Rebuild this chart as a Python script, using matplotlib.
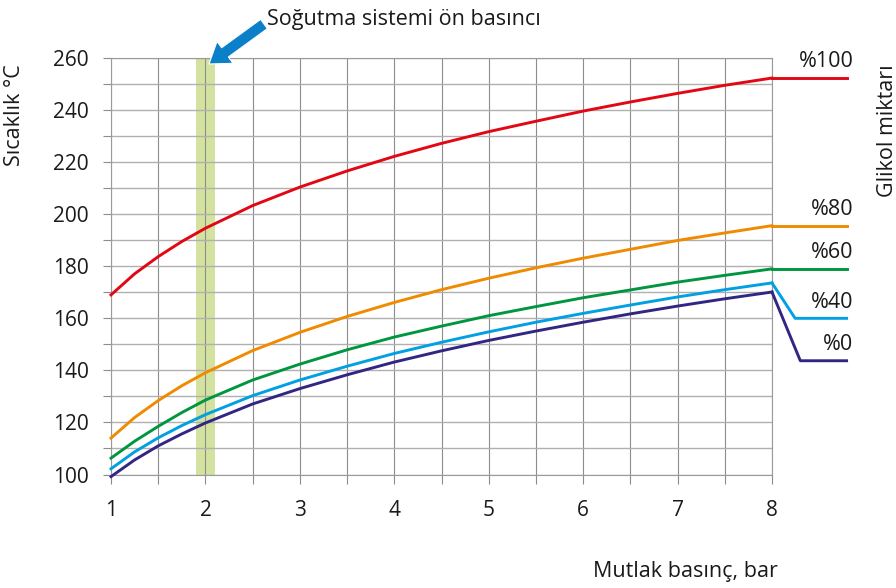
import matplotlib.pyplot as plt
from matplotlib.ticker import MultipleLocator

plt.rcParams['font.family'] = ['Open Sans', 'DejaVu Sans']

# -----------------------------
# Data
# -----------------------------

pressure = [1, 1.25, 1.5, 1.75, 2, 2.5, 3, 3.5, 4, 4.5, 5, 5.5, 6, 6.5, 7, 7.5, 8]

glycol_100 = [169, 177.1, 183.7, 189.5, 194.6, 203.3, 210.4, 216.6, 222.2, 227.2, 231.7, 235.7, 239.6, 243.1, 246.4, 249.5, 252.3]
glycol_80 = [114, 121.9, 128.4, 134.1, 139.1, 147.6, 154.6, 160.7, 166.1, 171.0, 175.4, 179.4, 183.1, 186.5, 189.9, 192.8, 195.6]
glycol_60 = [106.3, 112.8, 118.5, 123.8, 128.6, 136.3, 142.4, 147.9, 152.8, 157.0, 161.0, 164.5, 167.9, 170.9, 173.9, 176.5, 179.0]
glycol_40 = [102.2, 108.7, 114.1, 118.8, 123.0, 130.3, 136.3, 141.6, 146.5, 150.8, 154.8, 158.5, 161.9, 165.1, 168.2, 171.0, 173.6]
glycol_0 = [99.2, 105.6, 111.0, 115.6, 119.8, 127.1, 133.0, 138.3, 143.2, 147.5, 151.5, 155.1, 158.5, 161.7, 164.7, 167.5, 170.1]

# right hand tails after 8 bar
tail_end = 8.79
tail_40_x = [8.245, tail_end]
tail_40_y = [160, 160]
tail_0_x = [8.30, tail_end]
tail_0_y = [143.7, 143.7]

labels = ["%100", "%80", "%60", "%40", "%0"]
colors = ["#e30613", "#f08a00", "#009640", "#00a0e3", "#312783"]

band = (1.9, 2.1)

# -----------------------------
# Figure
# -----------------------------

fig = plt.figure(figsize=(8.96, 5.88), dpi=100)
ax = fig.add_axes([0.1239, 0.1930, 0.7377, 0.7084])

ax.set_xlim(1, 8)
ax.set_ylim(100, 260)

ax.axvspan(band[0], band[1], color="#d3e29e", zorder=0, lw=0)

ax.xaxis.set_major_locator(MultipleLocator(1))
ax.xaxis.set_minor_locator(MultipleLocator(0.5))
ax.yaxis.set_major_locator(MultipleLocator(20))
ax.yaxis.set_minor_locator(MultipleLocator(10))

ax.grid(True, which="both", axis="x", color="#8c8c8c", lw=0.8, zorder=1)
ax.grid(True, which="both", axis="y", color="#b0b0b0", lw=1.0, zorder=1)
ax.set_axisbelow(True)

ax.tick_params(axis="x", which="both", direction="out", length=6.5, width=0.8,
               color="#8c8c8c", pad=12, labelsize=15, labelcolor="#1a1a1a")
ax.tick_params(axis="y", which="both", direction="out", length=6, width=0.8,
               color="#8c8c8c", pad=10, labelsize=15, labelcolor="#1a1a1a")

for side in ["left", "right", "top", "bottom"]:
    ax.spines[side].set_color("#9a9a9a")
    ax.spines[side].set_linewidth(0.8)

series = [glycol_100, glycol_80, glycol_60, glycol_40, glycol_0]
lw = 2.1

for vals, col in zip(series, colors):
    ax.plot(pressure, vals, color=col, lw=lw, clip_on=False, zorder=3)

# tails
ax.plot([8, tail_end], [glycol_100[-1], glycol_100[-1]], color=colors[0], lw=lw, clip_on=False, zorder=3)
ax.plot([8, tail_end], [glycol_80[-1], glycol_80[-1]], color=colors[1], lw=lw, clip_on=False, zorder=3)
ax.plot([8, tail_end], [glycol_60[-1], glycol_60[-1]], color=colors[2], lw=lw, clip_on=False, zorder=3)
ax.plot([8] + tail_40_x, [glycol_40[-1]] + tail_40_y, color=colors[3], lw=lw, clip_on=False, zorder=3)
ax.plot([8] + tail_0_x, [glycol_0[-1]] + tail_0_y, color=colors[4], lw=lw, clip_on=False, zorder=3)

label_y = [glycol_100[-1], glycol_80[-1], glycol_60[-1], tail_40_y[0], tail_0_y[0]]
for lab, yv in zip(labels, label_y):
    ax.annotate(lab, xy=(tail_end, yv), xytext=(5, 4), textcoords="offset points",
                ha="right", va="bottom", fontsize=15.5, color="#1a1a1a",
                annotation_clip=False)

# -----------------------------
# Texts and arrow
# -----------------------------

fig.text(14 / 896, 1 - 115 / 588, "Sıcaklık °C", rotation=90, ha="center", va="center",
         fontsize=15.5, color="#1a1a1a")
fig.text(887 / 896, 1 - 131 / 588, "Glikol miktarı", rotation=90, ha="center", va="center",
         fontsize=15.5, color="#1a1a1a")
fig.text(685 / 896, 1 - 572 / 588, "Mutlak basınç, bar", ha="center", va="center",
         fontsize=15.5, color="#1a1a1a")
fig.text(267 / 896, 1 - 19 / 588, "Soğutma sistemi ön basıncı", ha="left", va="center",
         fontsize=15.5, color="#1a1a1a")

ax.annotate("", xy=(209, 588 - 64), xycoords="figure pixels",
            xytext=(264, 588 - 24), textcoords="figure pixels",
            arrowprops=dict(arrowstyle="simple,head_length=0.95,head_width=1.3,tail_width=0.55",
                            mutation_scale=15, color="#0b7fc7", ec="white", lw=0.8,
                            shrinkA=0, shrinkB=0),
            annotation_clip=False)

fig.savefig("out.png", dpi=100)
